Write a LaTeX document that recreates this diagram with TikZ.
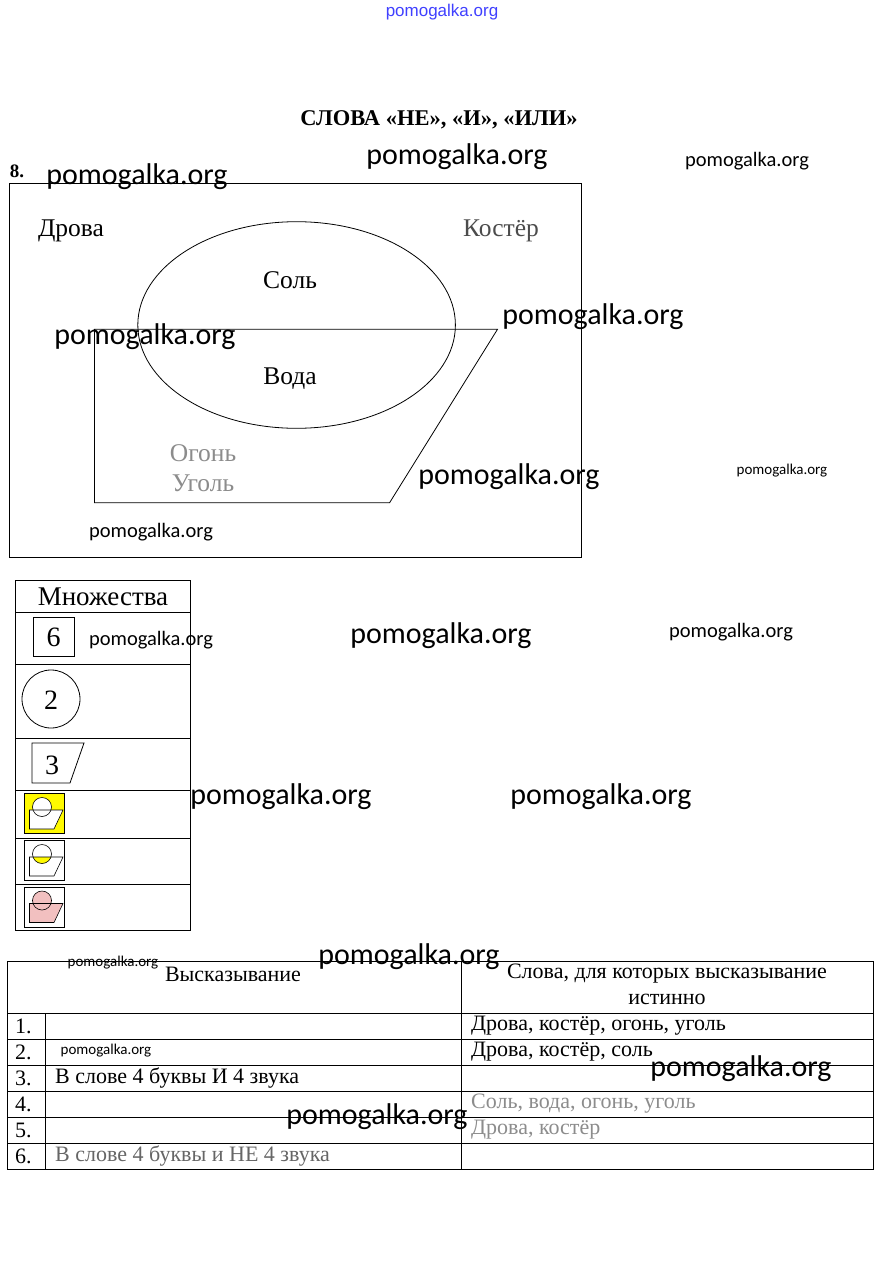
\documentclass[tikz,border=0pt]{standalone}
\usepackage{fontspec}
\setmainfont{Liberation Serif}
\newfontfamily\wmfont{Carlito}
\newfontfamily\topfont{Liberation Sans}
\definecolor{pinkfill}{RGB}{242,192,192}
\definecolor{yfill}{RGB}{255,250,0}
\begin{document}
\begin{tikzpicture}[x=1pt,y=-1pt,
  ln/.style={draw=black, line width=0.8pt},
  wmL/.style={font=\wmfont\fontsize{30}{30}\selectfont, inner sep=0pt},
  wmM/.style={font=\wmfont\fontsize{20.5}{20.5}\selectfont, inner sep=0pt},
  wmS/.style={font=\wmfont\fontsize{15}{15}\selectfont, inner sep=0pt},
  lbl/.style={font=\fontsize{25.5}{25.5}\selectfont, inner sep=0pt},
  digit/.style={font=\fontsize{28}{28}\selectfont, inner sep=0pt},
  cell/.style={font=\fontsize{22}{22}\selectfont, inner sep=0pt, anchor=west},
  hcell/.style={font=\fontsize{22}{22}\selectfont, inner sep=0pt},
  faded/.style={text=black!45},
  trap/.style={ln, line width=0.6pt}
]
\useasboundingbox[fill=white] (0,0) rectangle (882,1287);

% header
\node[font=\topfont\fontsize{17}{17}\selectfont, text=blue!75, inner sep=0pt] (top) at (442,12) {pomogalka.org};
\node[font=\bfseries\fontsize{22.5}{22.5}\selectfont, inner sep=0pt] (title) at (439,120) {СЛОВА «НЕ», «И», «ИЛИ»};
\node[font=\bfseries\fontsize{19}{19}\selectfont, inner sep=0pt] (num) at (17,171) {8.};

% Venn-like diagram
\draw[ln] (9,183) rectangle (581,557);
\draw[ln] (296.6,325) ellipse [x radius=158.8, y radius=103.3];
\draw[ln] (94.5,329.3) -- (497.5,329.3) -- (389.6,502.7) -- (94.5,502.7) -- cycle;
\node[lbl] (drova) at (71,231) {Дрова};
\node[lbl, text=black!70] (koster) at (501,231) {Костёр};
\node[lbl] (sol) at (290,280) {Соль};
\node[lbl] (voda) at (290,379) {Вода};
\node[lbl, faded] (ogon) at (203,453) {Огонь};
\node[lbl, faded] (ugol) at (203,483) {Уголь};

% legend table
\draw[ln] (15.7,580) rectangle (190,930);
\foreach \yy in {612,664,738,790,838,884} \draw[ln] (15.7,\yy) -- (190,\yy);
\node[font=\fontsize{27}{27}\selectfont, inner sep=0pt] (mn) at (103,597) {Множества};
\draw[ln] (33,617) rectangle (74,656);
\node[digit] (six) at (53.5,637) {6};
\draw[ln] (51,699) circle [radius=29];
\node[digit] (two) at (51,700) {2};
\draw[ln] (32,743) -- (84,743) -- (70,783) -- (32,783) -- cycle;
\node[digit] (three) at (52,765) {3};

% icon 4: complement (yellow outside)
\begin{scope}[yshift=-793.5pt]
  \fill[yfill] (24,0) rectangle (64,40);
  \fill[white] (42,13.5) circle [radius=9.5];
  \fill[white] (29.5,16.5) -- (63,16.5) -- (54,35.5) -- (29.5,35.5) -- cycle;
  \draw[trap] (24,0) rectangle (64,40);
  \draw[trap] (42,13.5) circle [radius=9.5];
  \draw[trap] (29.5,16.5) -- (63,16.5) -- (54,35.5) -- (29.5,35.5) -- cycle;
\end{scope}
% icon 5: intersection
\begin{scope}[yshift=-840.5pt]
  \begin{scope}
    \clip (42,13.5) circle [radius=9.5];
    \fill[yfill] (29.5,16.5) -- (63,16.5) -- (54,35.5) -- (29.5,35.5) -- cycle;
  \end{scope}
  \draw[trap] (24,0) rectangle (64,40);
  \draw[trap] (42,13.5) circle [radius=9.5];
  \draw[trap] (29.5,16.5) -- (63,16.5) -- (54,35.5) -- (29.5,35.5) -- cycle;
\end{scope}
% icon 6: union
\begin{scope}[yshift=-887pt]
  \fill[pinkfill] (42,13.5) circle [radius=9.5];
  \fill[pinkfill] (29.5,16.5) -- (63,16.5) -- (54,35.5) -- (29.5,35.5) -- cycle;
  \draw[trap] (24,0) rectangle (64,40);
  \draw[trap] (42,13.5) circle [radius=9.5];
  \draw[trap] (29.5,16.5) -- (63,16.5) -- (54,35.5) -- (29.5,35.5) -- cycle;
\end{scope}

% main table
\draw[ln] (7,961) rectangle (873,1169);
\foreach \yy in {1013,1039,1065,1091,1117,1143} \draw[ln] (7,\yy) -- (873,\yy);
\draw[ln] (461,961) -- (461,1169);
\draw[ln] (45,1013) -- (45,1169);
\node[hcell] (h1) at (233,974) {Высказывание};
\node[hcell] (h2) at (667,974) {Слова, для которых высказывание};
\node[hcell] (h3) at (667,999) {истинно};
\node[cell] (n1) at (15,1026) {1.};
\node[cell] (n2) at (15,1052) {2.};
\node[cell] (n3) at (15,1078) {3.};
\node[cell] (n4) at (15,1104) {4.};
\node[cell] (n5) at (15,1130) {5.};
\node[cell] (n6) at (15,1156) {6.};
\node[cell] (r1) at (471,1026) {Дрова, костёр, огонь, уголь};
\node[cell] (r2) at (471,1052) {Дрова, костёр, соль};
\node[cell] (l3) at (55,1078) {В слове 4 буквы И 4 звука};
\node[cell, faded] (r4) at (471,1104) {Соль, вода, огонь, уголь};
\node[cell, faded] (r5) at (471,1130) {Дрова, костёр};
\node[cell, text=black!60] (l6) at (55,1156) {В слове 4 буквы и НЕ 4 звука};

% watermarks
\node[wmL] (w1) at (137,177) {pomogalka.org};
\node[wmL] (w2) at (457,157) {pomogalka.org};
\node[wmM] (w3) at (747,161) {pomogalka.org};
\node[wmL] (w4) at (145,337) {pomogalka.org};
\node[wmL] (w5) at (593,317) {pomogalka.org};
\node[wmL] (w6) at (509,477) {pomogalka.org};
\node[wmS] (w7) at (782,471) {pomogalka.org};
\node[wmM] (w8) at (151,532) {pomogalka.org};
\node[wmM] (w9) at (151,640) {pomogalka.org};
\node[wmL] (w10) at (441,636) {pomogalka.org};
\node[wmM] (w11) at (731,632) {pomogalka.org};
\node[wmL] (w12) at (281,797) {pomogalka.org};
\node[wmL] (w13) at (601,797) {pomogalka.org};
\node[wmS] (w14) at (113,963) {pomogalka.org};
\node[wmL] (w15) at (409,957) {pomogalka.org};
\node[wmS] (w16) at (106,1051) {pomogalka.org};
\node[wmL] (w17) at (741,1069) {pomogalka.org};
\node[wmL] (w18) at (377,1117) {pomogalka.org};
\end{tikzpicture}
\end{document}
